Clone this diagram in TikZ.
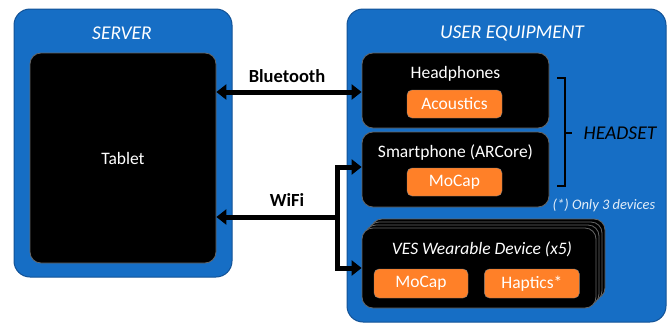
\documentclass[tikz,border=0pt]{standalone}
\usepackage{fontspec}
\setmainfont{Carlito}
\usepackage{tikz}
\usetikzlibrary{positioning,calc,arrows.meta}

\definecolor{ueblue}{RGB}{22,110,197}
\definecolor{ueedge}{RGB}{18,82,150}
\definecolor{funcorange}{RGB}{255,128,40}

\newcommand{\bodyfont}{\fontsize{17.5}{20}\selectfont}
\newcommand{\titlefont}{\fontsize{19.5}{22}\selectfont\itshape}

\begin{document}
\begin{tikzpicture}[x=1pt, y=-1pt,
    group/.style={rectangle, draw=ueedge, fill=ueblue, line width=1pt, rounded corners=16pt},
    dev/.style={rectangle, draw=black!60, fill=black, line width=0.8pt, rounded corners=11pt},
    func/.style={rectangle, draw=black!50, fill=funcorange, rounded corners=5pt, text=white, font=\bodyfont, minimum width=95pt, minimum height=28pt, inner sep=0pt},
    lbl/.style={text=white, font=\bodyfont, inner sep=0pt},
    ttl/.style={text=white, font=\titlefont, inner sep=0pt},
    link/.style={line width=5pt, -{Triangle[length=10pt, width=15pt]}}]
            \useasboundingbox (0,0) rectangle (667,325);

            % the two containers
            \node (server) [group, minimum width=218pt, minimum height=268pt] at (123,143) {};
            \node (ue) [group, minimum width=319pt, minimum height=313pt] at (506.5,165.5) {};
            \node (servertitle) [ttl] at (122,33) {SERVER};
            \node (uetitle) [ttl] at (512,33) {USER EQUIPMENT};

            \node (tablet) [dev, minimum width=186pt, minimum height=210pt] at (123,158) {};
            \node (tablettxt) [lbl] at (tablet.center) {Tablet};

            % headset devices
            \node (headphones) [dev, minimum width=187pt, minimum height=75pt] at (455.5,90.5) {};
            \node (hptxt) [lbl] at ($(headphones.north)+(0,21)$) {Headphones};
            \node (acoustics) [func] at ($(headphones.center)+(-1,13.5)$) {Acoustics};

            \node (smartphone) [dev, minimum width=187pt, minimum height=75pt] at (455.5,169.5) {};
            \node (sptxt) [lbl] at ($(smartphone.north)+(0,21)$) {Smartphone (ARCore)};
            \node (spmocap) [func] at ($(smartphone.center)+(-1,12.5)$) {MoCap};

            % stack of wearables
            \foreach \k in {3,2,1}
                \node [dev, minimum width=234pt, minimum height=80pt] at (479+3*\k, 268-3*\k) {};
            \node (ves) [dev, minimum width=234pt, minimum height=80pt] at (479,268) {};
            \node (vestxt) [lbl, font=\bodyfont\itshape] at ($(ves.north)+(3,22)$) {VES Wearable Device (x5)};
            \node (vesmocap) [func, minimum width=94pt, minimum height=29pt] at ($(ves.center)+(-58,15.5)$) {MoCap};
            \node (haptics) [func, minimum height=29pt] [right=16pt of vesmocap] {Haptics*};

            % headset bracket
            \draw [line width=1.5pt] (557,78) -- (565,78) -- (565,186) -- (557,186);
            \draw [line width=1.5pt] (565,133) -- (572,133);
            \node (headset) [inner sep=0pt, font=\titlefont] at (620,133) {HEADSET};
            \node (note) [inner sep=0pt, text=white!88!ueblue, font=\fontsize{14.5}{17}\selectfont\itshape] at (604,205) {(*) Only 3 devices};

            % links
            \draw [link, {Triangle[length=10pt, width=15pt]}-{Triangle[length=10pt, width=15pt]}] (tablet.east |- 0,92) -- (headphones.west |- 0,92);
            \node (bt) [font=\fontsize{18.5}{21}\selectfont\bfseries, inner sep=0pt] at (287,76) {Bluetooth};

            \coordinate (hub) at (337,217);
            \draw [link] (hub) -- (tablet.east |- hub);
            \draw [link] (hub) |- (smartphone.west |- 0,167);
            \draw [link] (hub) |- (ves.west);
            \node (wifi) [font=\fontsize{18.5}{21}\selectfont\bfseries, inner sep=0pt] at (287,200) {WiFi};
\end{tikzpicture}
\end{document}
